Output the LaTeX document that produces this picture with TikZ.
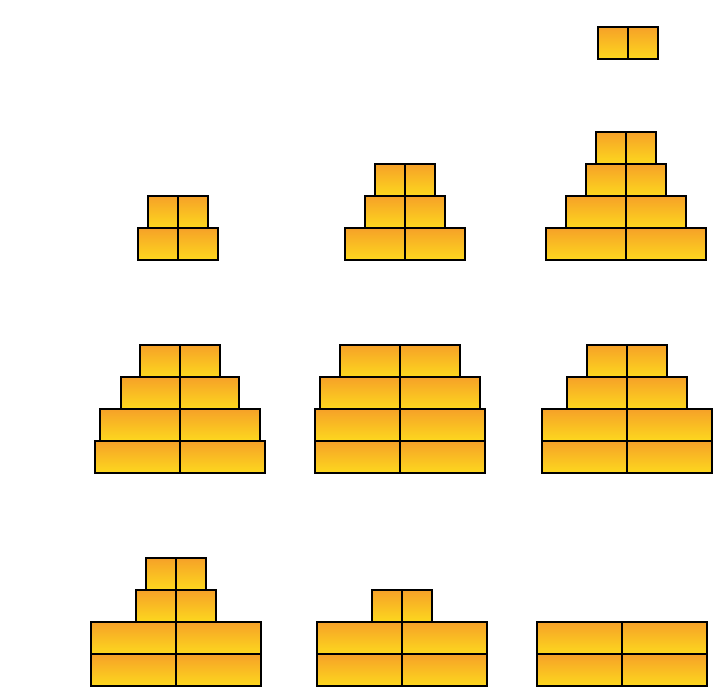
\documentclass[tikz,border=0pt]{standalone}
\definecolor{topC}{HTML}{F6A128}
\definecolor{midC}{HTML}{F9B424}
\definecolor{botC}{HTML}{FDD81E}
\tikzset{
  half/.style={draw=black, line width=1.6pt, inner sep=0pt, outer sep=0pt,
    minimum height=32pt, top color=topC, middle color=midC, bottom color=botC}
}
\begin{document}
\begin{tikzpicture}[x=1pt,y=-1pt]
\useasboundingbox (0,0) rectangle (720,688);
\foreach \n/\cx/\yt/\w in {
  r1/628/27/60,
  a1/178/196/60, a2/178/228/80,
  b1/405/164/60, b2/405/196/80, b3/405/228/120,
  c1/626/132/60, c2/626/164/80, c3/626/196/120, c4/626/228/160,
  d1/180/345/80, d2/180/377/118, d3/180/409/160, d4/180/441/170,
  e1/400/345/120, e2/400/377/160, e3/400/409/170, e4/400/441/170,
  f1/627/345/80, f2/627/377/120, f3/627/409/170, f4/627/441/170,
  g1/176/558/60, g2/176/590/80, g3/176/622/170, g4/176/654/170,
  h1/402/590/60, h2/402/622/170, h3/402/654/170,
  i1/622/622/170, i2/622/654/170}
{
  \pgfmathsetmacro{\hw}{\w/2}
  \node[half, minimum width=\hw pt, anchor=north east] (\n l) at (\cx,\yt) {};
  \node[half, minimum width=\hw pt, anchor=north west] (\n r) at (\cx,\yt) {};
}
\end{tikzpicture}
\end{document}
